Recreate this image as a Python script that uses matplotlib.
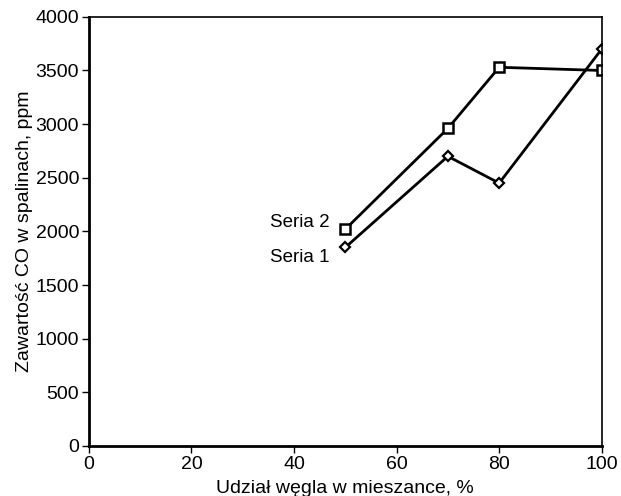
import matplotlib
matplotlib.use('Agg')
import matplotlib.pyplot as plt

plt.rcParams['font.family'] = ['Liberation Sans', 'DejaVu Sans']

# udzial wegla w mieszance, %
udzial = [50, 70, 80, 100]
seria1 = [1850, 2700, 2450, 3700]
seria2 = [2020, 2960, 3530, 3500]

fig = plt.figure(figsize=(6.21, 4.96), dpi=100)
ax = fig.add_axes([0.143, 0.101, 0.826, 0.865])

ax.plot(udzial, seria2, color='black', lw=2, marker='s', ms=7,
        mfc='white', mec='black', mew=1.8)
ax.plot(udzial, seria1, color='black', lw=2, marker='D', ms=5,
        mfc='white', mec='black', mew=1.6)

ax.annotate('Seria 2', (udzial[0], seria2[0]), xytext=(-11, 5), textcoords='offset points',
            ha='right', va='center', fontsize=13.5)
ax.annotate('Seria 1', (udzial[0], seria1[0]), xytext=(-11, -7), textcoords='offset points',
            ha='right', va='center', fontsize=13.5)

ax.set_xlim(0, 100)
ax.set_ylim(0, 4000)
ax.set_xticks([0, 20, 40, 60, 80, 100])
ax.set_yticks(range(0, 4001, 500))
ax.tick_params(direction='out', length=5, width=1, labelsize=14, pad=2)
for s in ['left', 'bottom']:
    ax.spines[s].set_linewidth(2)
for s in ['top', 'right']:
    ax.spines[s].set_linewidth(1.2)

ax.set_xlabel('Udział węgla w mieszance, %', fontsize=14, labelpad=5)
ax.set_ylabel('Zawartość CO w spalinach, ppm', fontsize=14, labelpad=2)

fig.savefig('out.png', dpi=100)
